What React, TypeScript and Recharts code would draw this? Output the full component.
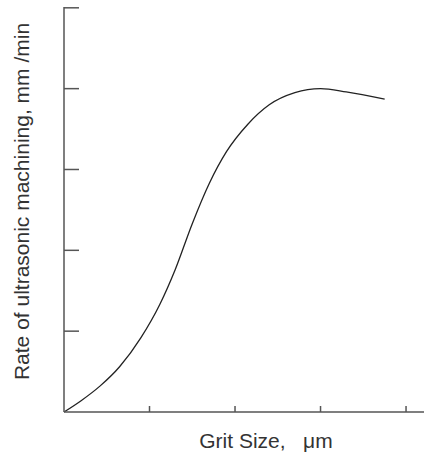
import React from 'react'
import { LineChart, Line, XAxis, YAxis, Label } from 'recharts'

// grit size (arbitrary units, one per x tick)
const gritSize: number[] = [0, 0.2, 0.42, 0.65, 0.9, 1.12, 1.3, 1.5, 1.7, 1.9, 2.15, 2.4, 2.7, 3.0, 3.3, 3.75]
// machining rate (arbitrary units, one per y tick)
const rate: number[] = [0, 0.14, 0.32, 0.56, 0.92, 1.33, 1.76, 2.33, 2.83, 3.22, 3.56, 3.8, 3.95, 4.0, 3.96, 3.87]

const xTicks: number[] = [1, 2, 3, 4]
const yTicks: number[] = [1, 2, 3, 4, 5]

interface IPoint {
    x: number,
    y: number
}

const data: IPoint[] = gritSize.map((x, i) => ({ x, y: rate[i] }))

const AXIS = '#555'
const FONT = '"Liberation Sans", Arial, sans-serif'

// tick marks point into the plot, labels hidden
const XTick = (props: any) => (
    <line x1={props.x} x2={props.x} y1={props.y} y2={props.y - 6} stroke={AXIS} strokeWidth={1.5} />
)
const YTick = (props: any) => (
    <g>
        <line x1={props.x} x2={props.x + 15} y1={props.y} y2={props.y} stroke={AXIS} strokeWidth={1.5} />
        <text x={props.x + 20} y={props.y} fontSize={10} fillOpacity={0}>{String(props.payload?.value)}</text>
    </g>
)

const App: React.FunctionComponent = () => {
    return (
        <div style={{ position: 'absolute', left: 0, top: 0 }}>
            <LineChart width={428} height={452} data={data} margin={{ top: 7, right: 4, bottom: 0, left: 0 }}>
                <XAxis
                    type="number"
                    dataKey="x"
                    domain={[0, 4.21]}
                    ticks={xTicks}
                    interval={0}
                    tick={XTick}
                    tickLine={false}
                    tickSize={0}
                    tickMargin={0}
                    height={40}
                    stroke={AXIS}
                    strokeWidth={1.5}
                >
                    <Label
                        value={'Grit Size,\u00A0\u00A0\u00A0μm'}
                        position="insideBottom"
                        offset={4}
                        dx={22}
                        style={{ fontFamily: FONT, fontSize: 21, fill: '#333' }}
                    />
                </XAxis>
                <YAxis
                    type="number"
                    domain={[0, 5.01]}
                    ticks={yTicks}
                    interval={0}
                    tick={YTick}
                    tickLine={false}
                    tickSize={0}
                    tickMargin={0}
                    width={64}
                    stroke={AXIS}
                    strokeWidth={1.5}
                >
                    <Label
                        value="Rate of ultrasonic machining, mm /min"
                        angle={-90}
                        position="insideLeft"
                        offset={22}
                        dy={-8}
                        style={{ fontFamily: FONT, fontSize: 21, fill: '#333', textAnchor: 'middle' }}
                    />
                </YAxis>
                <Line
                    type="monotone"
                    dataKey="y"
                    stroke="#222"
                    strokeWidth={1.3}
                    dot={false}
                    isAnimationActive={false}
                />
            </LineChart>
        </div>
    )
}

export default App
